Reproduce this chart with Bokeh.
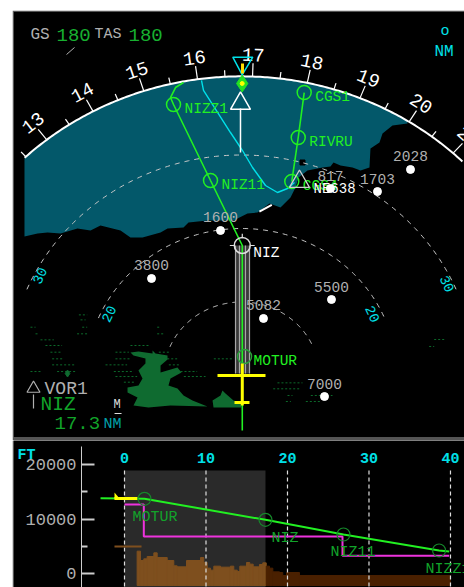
import numpy as np
from bokeh.embed import file_html
from bokeh.layouts import column
from bokeh.models import ColumnDataSource, FixedTicker, LinearAxis, Range1d
from bokeh.plotting import figure
from bokeh.core.properties import value
from bokeh.resources import INLINE

FONT = "Liberation Mono"
# ---------------- navigation display data (NM right of / ahead of the aircraft)
heading_top = 168
compass_radius = 40.7
compass_major = [130, 140, 150, 160, 170, 180, 190, 200, 210]
compass_labels = ["13", "14", "15", "16", "17", "18", "19", "20", "21"]
compass_minor = [125, 135, 145, 155, 165, 175, 185, 195, 205, 215]
ring_ranges = [10, 20, 30]
ring_label_text = ["30", "20", "20", "30"]
ring_label_x = [-26.0, -17.1, 16.9, 26.5]
ring_label_y = [13.6, 8.4, 8.4, 12.5]
ring_label_deg = [65, 65, -65, -65]

terrain_edge_x = [21.36, 19.43, 18.15, 17.76, 16.60, 16.47, 15.32, 14.29, 12.74, 11.84, 11.45, 10.42, 8.49, 7.34,
                  6.95, 6.31, 5.02, 3.60, 2.06, 0.77, -0.51, -1.03, -4.38, -6.82, -7.46, -9.52, -10.42, -12.74,
                  -14.29, -15.57, -18.15, -19.43, -21.11, -23.29, -24.97, -26.25, -27.93]
terrain_edge_y = [34.29, 34.01, 32.93, 31.70, 30.88, 28.30, 27.89, 28.30, 28.57, 28.98, 28.44, 28.30, 27.89, 26.94,
                  25.58, 24.22, 22.86, 23.40, 22.18, 22.04, 21.36, 21.09, 21.09, 20.82, 20.14, 20.00, 19.46, 18.78,
                  18.78, 19.73, 20.41, 19.73, 20.00, 19.32, 19.46, 19.32, 18.91]

high_ground_x = [-14.29, -13.26, -11.45, -11.45, -11.07, -9.52, -9.52, -10.42, -10.42, -8.24, -7.72, -9.14, -9.40,
                 -8.24, -7.46, -6.31, -4.38, -9.14, -11.97, -13.90, -13.38, -14.67, -14.67, -13.26, -12.74, -13.26,
                 -12.36, -12.36, -13.90]
high_ground_y = [3.13, 3.27, 2.99, 3.40, 2.99, 2.72, 2.18, 1.36, 0.41, 1.09, 0.41, -0.41, -1.36, -1.77, -2.72, -3.40,
                 -4.22, -4.08, -4.35, -4.08, -2.99, -2.31, -1.63, -1.36, -0.41, 0.68, 1.63, 2.31, 2.72]
high_ground2_x = [-3.73, -2.70, -2.45, -2.06, -1.03, -0.13, 0.0, -3.60]
high_ground2_y = [-3.40, -2.72, -2.04, -2.45, -3.40, -3.67, -4.35, -4.35]

clutter_y = [8.25, 7.57, 6.57, 6.57, 6.57, 5.67, 5.67, 5.67, 4.85, 4.08, 4.08, 3.17, 3.17, 3.17, 2.27, 2.27, 2.27, 2.27,
             1.45, 1.45, 1.45, 0.54, 0.54, 0.54, 0.54, -0.14, -0.14, -0.91, -1.0, -1.81, -2.72, -2.72, -3.54, -3.54,
             4.90, 3.95]
clutter_x0 = [-20.93, -20.72, -27.16, -20.50, -10.85, -26.51, -21.16, -10.85, -25.87, -25.23, -14.29, -24.59, -16.22,
              -10.64, -24.37, -16.22, -9.56, -3.56, -24.37, -17.5, -9.35, -27.16, -23.73, -16.43, -7.85, -16.22, -7.42,
              -15.14, 4.63, 4.08, 5.92, 8.92, 5.71, 8.28, 24.8, 24.15]
clutter_x1 = [-19.86, -20.07, -26.51, -19.86, -10.42, -26.08, -19.86, -10.0, -24.16, -23.09, -11.71, -23.30, -14.50,
              -9.35, -22.87, -14.29, -8.28, -1.21, -21.37, -14.72, -7.85, -25.87, -21.16, -13.85, -5.71, -13.43, -4.63,
              -13.64, 7.85, 7.64, 6.56, 11.71, 6.35, 10.21, 26.3, 24.8]

route_x = [-7.46, -8.49, -9.14, -8.75, -3.99, 0.1, 0.1]
route_y = [39.86, 39.18, 37.82, 36.87, 26.53, 17.69, -7.48]
route2_x = [8.07, 7.30, 6.47]
route2_y = [38.50, 32.38, 26.39]
waypoint_names = ["NIZZ1", "NIZ11", "CGS1", "RIVRU", "CGS4"]
waypoint_x = [-8.75, -3.99, 8.07, 7.30, 6.47]
waypoint_y = [36.87, 26.53, 38.50, 32.38, 26.39]
intercept_x = [-5.15, -4.89, -1.42, 0.13, 1.42, 3.09, 4.63, 5.92, 6.82]
intercept_y = [40.14, 38.78, 33.06, 30.61, 28.30, 25.85, 24.90, 25.44, 26.26]

spot_labels = ["1600", "3800", "5082", "5500", "7000", "817", "1703", "2028"]
spot_x = [-2.70, -11.58, 2.83, 11.58, 10.68, 11.45, 17.50, 21.75]
spot_y = [19.73, 13.20, 7.76, 10.34, -2.86, 25.44, 25.03, 28.03]

vor_x, vor_y = 0.1, 17.69
motur_x, motur_y = 0.39, 2.58
corridor_offsets = [-0.77, -0.26, 0.51, 1.03]
corridor_end = 0.27
dme_nm = 17.3

# ---------------- vertical profile data
nm_ticks = [0, 10, 20, 30, 40]
alt_ticks = [0, 10000, 20000]
alt_minor = [5000, 15000]
floor_ft = -2202
ground_edges = [1.55, 1.96, 2.37, 2.78, 3.60, 4.01, 5.24, 6.05, 6.46, 7.61, 9.33, 9.73, 10.15, 10.55, 10.96, 11.78,
                13.0, 13.41, 13.83, 14.15, 14.97, 15.37, 15.79, 16.56, 16.97, 17.39, 17.79, 18.2, 19.02, 19.42, 19.88,
                21.47, 40.0]
ground_top = [4097, 2385, 2691, 3119, 3792, 2936, 2385, 1407, 1223, 2385, 2936, 2018, 979, 612, 1346, 1162, 1346, 612,
              367, 1346, 2018, 1713, 1223, 1651, 1957, 1346, 979, 306, 183, -367, 183, -367]
path_nm = [-2.94, 2.45, 17.3, 26.87, 38.6, 39.84]
path_ft = [13817, 13706, 9853, 7156, 4220, 4037]
constraint_nm = [0, 2.37, 2.37, 26.75, 26.75, 39.84]
constraint_ft = [12661, 12661, 6789, 6789, 3248, 3248]
fix_nm = [2.45, 17.3, 26.87, 38.6]
fix_ft = [13706, 9853, 7156, 4220]
fix_names = ["MOTUR", "NIZ", "NIZ11", "NIZZ1"]
fix_label_nm = [0.98, 18.04, 25.28, 36.93]
fix_label_ft = [10275, 6422, 3853, 734]
alt_axis_nm = -5.276
nm_axis_ft = 19266

TEAL, CYAN, GREEN, DIM = "#03586a", "#00e0e8", "#22f022", "#12a32a"
GRAY = "#b0b0b0"


def txt(p, x, y, labels, color, size, align="left", **kw):
    return p.text(x=x, y=y, text=labels, text_color=color, text_font=value(FONT),
                  text_font_size=f"{size}px", text_align=align, text_baseline="middle", **kw)


# ================ map
m = figure(width=452, height=430, output_backend="svg", toolbar_location=None, x_axis_type=None, y_axis_type=None,
           x_range=Range1d(-29.344, 28.700), y_range=Range1d(-8.435, 49.524), background_fill_color="black",
           border_fill_color="#555555", min_border_left=1, min_border_top=1, min_border_bottom=3, min_border_right=0,
           outline_line_color=None)
m.margin = (10, 0, 0, 12)
m.grid.visible = False

th0 = np.degrees(np.arcsin(terrain_edge_x[-1] / compass_radius))
th1 = np.degrees(np.arcsin(terrain_edge_x[0] / compass_radius))
arc_th = np.radians(np.linspace(th0, th1, 120))
m.patch(list(compass_radius * np.sin(arc_th)) + terrain_edge_x, list(compass_radius * np.cos(arc_th)) + terrain_edge_y,
        fill_color=TEAL, line_color=None)
m.scatter([7.85], [28.98], marker="square", size=5, color="black")

m.segment(x0=clutter_x0, y0=clutter_y, x1=clutter_x1, y1=clutter_y, line_color="#0c6a2a", line_width=1, line_dash="2 2")
m.patch(high_ground_x, high_ground_y, fill_color="#0f6b30", line_color=None)
m.patch(high_ground2_x, high_ground2_y, fill_color="#0f6b30", line_color=None)
m.scatter([-22.39], [0.27], marker="diamond", size=7, color="#0f6b30")

ring_th = np.radians(np.linspace(-67, 67, 200))
for r in ring_ranges:
    m.line(r * np.sin(ring_th), r * np.cos(ring_th), line_color="#c8c8c8", line_width=1, line_dash="5 5")
txt(m, ring_label_x, ring_label_y, ring_label_text, CYAN, 14, "center", angle=np.radians(ring_label_deg))
m.line([2.3, 3.9], [22.3, 23.2], line_color="white", line_width=2)

# compass rose
rose = np.radians(np.linspace(-43.3, 44.3, 200))
m.line(compass_radius * np.sin(rose), compass_radius * np.cos(rose), line_color="white", line_width=2)
for ticks, ln in ((compass_major, 1.8), (compass_minor, 0.9)):
    a = np.radians(np.array(ticks) - heading_top)
    m.segment(x0=compass_radius * np.sin(a), y0=compass_radius * np.cos(a),
              x1=(compass_radius + ln) * np.sin(a), y1=(compass_radius + ln) * np.cos(a),
              line_color="white", line_width=1.2)
a = np.radians(np.array(compass_major) - heading_top)
txt(m, 43.6 * np.sin(a), 43.6 * np.cos(a), compass_labels, "white", 19, "center", angle=-a)

# localiser corridor
m.quad(left=[corridor_offsets[0]], right=[corridor_offsets[-1]], bottom=[corridor_end], top=[vor_y], fill_color="#3a3a3a",
       line_color=None)
m.segment(x0=corridor_offsets, y0=[corridor_end] * 4, x1=corridor_offsets, y1=[vor_y] * 4, line_color="#a8a8a8", line_width=1.2)

# routes
m.line(intercept_x, intercept_y, line_color=CYAN, line_width=1.4)
m.line(route_x, route_y, line_color=GREEN, line_width=1.6)
m.line(route2_x, route2_y, line_color=GREEN, line_width=1.6)
m.scatter(waypoint_x, waypoint_y, marker="circle", size=14, fill_color=None, line_color=GREEN, line_width=1.5)
txt(m, waypoint_x, waypoint_y, waypoint_names, GREEN, 14.5, x_offset=11, y_offset=4)

# VOR NIZ symbol
m.scatter([vor_x], [vor_y], marker="circle", size=16, fill_color=None, line_color="#dddddd", line_width=1.5)
m.segment(x0=[vor_x - 1.6, vor_x + 1.0, vor_x], y0=[vor_y, vor_y, vor_y + 1.0], x1=[vor_x - 1.0, vor_x + 1.6, vor_x],
          y1=[vor_y, vor_y, vor_y + 1.6], line_color="#dddddd", line_width=1.2)
txt(m, [vor_x], [vor_y], ["NIZ"], "white", 14.5, x_offset=11, y_offset=8)
m.scatter([motur_x], [motur_y], marker="circle", size=14, fill_color=None, line_color="#2aa03a", line_width=1.5)
txt(m, [motur_x], [motur_y], ["MOTUR"], GREEN, 14.5, x_offset=9, y_offset=4)

# spot heights
m.scatter(spot_x, spot_y, marker="circle", size=8, color="white")
txt(m, spot_x, spot_y, spot_labels, GRAY, 14.5, "center", y_offset=-13)
m.scatter([7.46], [26.39], marker="triangle", size=20, fill_color=None, line_color="#cfcfcf", line_width=1.3)
txt(m, [9.27], [25.44], ["NE638"], "white", 14)

# VOR pointer and track
m.scatter([-0.13], [37.01], marker="triangle", size=20, fill_color=None, line_color="white", line_width=1.5)
m.line([-0.13, -0.13], [36.33, 30.34], line_color="white", line_width=1.5)
m.scatter([0.09], [39.73], marker="diamond", size=17, color="#22e022")
m.scatter([0.09], [39.73], marker="circle", size=4, color="#ffff00")
m.patch([-1.12, 1.45, 0.09], [43.31, 43.31, 40.91], fill_color=None, line_color=CYAN, line_width=1.5)
m.line([0.13, 0.13], [42.45, 41.09], line_color="#ffdd00", line_width=3)

# aircraft
m.segment(x0=[0.1, -3.09, -0.90], y0=[1.63, 0, -3.67], x1=[0.1, 3.09, 1.03], y1=[-4.08, 0, -3.67],
          line_color="#ffff00", line_width=3)

# HUD texts
txt(m, [-27.16], [46.39], ["GS"], GRAY, 16)
txt(m, [-23.81], [46.39], ["180"], "#18b030", 19)
txt(m, [-18.92], [46.39], ["TAS"], GRAY, 15)
txt(m, [-14.54], [46.39], ["180"], "#18b030", 19)
m.line([-22.52, -21.49], [43.67, 44.63], line_color=GRAY, line_width=1)
txt(m, [25.61], [46.80], ["o"], CYAN, 15)
txt(m, [24.84], [44.08], ["NM"], CYAN, 16)
m.scatter([-26.77], [-1.77], marker="triangle", size=13, fill_color=None, line_color=GRAY, line_width=1.2)
m.line([-26.77, -26.77], [-2.59, -4.49], line_color=GRAY, line_width=1.2)
txt(m, [-25.35], [-1.77], ["VOR1"], GRAY, 18)
txt(m, [-25.87], [-3.95], ["NIZ"], "#12a32a", 19.5)
txt(m, [-24.07], [-6.53], ["17.3"], "#12a32a", 19)
txt(m, [-17.76], [-6.67], ["NM"], "#00a0a8", 15)
txt(m, [-16.47], [-4.08], ["M"], "#dddddd", 12)
m.line([-16.34, -15.44], [-5.17, -5.17], line_color="#dddddd", line_width=1.2)

# ================ vertical profile
v = figure(width=452, height=147, output_backend="svg", toolbar_location=None, x_axis_location=None,
           y_axis_location="left", x_range=Range1d(-13.62, 41.72), y_range=Range1d(-2569, 24404),
           background_fill_color="black", border_fill_color="#555555", min_border_left=1, min_border_top=0,
           min_border_bottom=0, min_border_right=0, outline_line_color=None)
v.margin = (0, 0, 0, 12)
v.grid.visible = False
ya = v.yaxis[0]
ya.fixed_location = alt_axis_nm
ya.bounds = (-2569, 23303)
ya.ticker = FixedTicker(ticks=alt_ticks, minor_ticks=alt_minor)
ya.axis_line_color = "#cccccc"
ya.major_tick_line_color = "#cccccc"
ya.minor_tick_line_color = "#cccccc"
ya.major_tick_line_width = 2
ya.minor_tick_line_width = 2
ya.major_tick_in, ya.major_tick_out = 13, 0
ya.minor_tick_in, ya.minor_tick_out = 6, 0
ya.major_label_text_color = GRAY
ya.major_label_text_font = FONT
ya.major_label_text_font_size = "17px"
ya.major_label_standoff = 5
ya.major_label_orientation = "horizontal"

xa = LinearAxis(ticker=FixedTicker(ticks=nm_ticks), axis_line_color=None, major_tick_line_color=None,
                minor_tick_line_color=None, major_label_text_color=CYAN, major_label_text_font=FONT,
                major_label_text_font_size="15px", major_label_text_font_style="bold", major_label_standoff=0,
                fixed_location=nm_axis_ft)
v.add_layout(xa, "above")

v.quad(left=[0], right=[dme_nm], bottom=[-2569], top=[18900], fill_color="#2a2a2a", line_color=None)
ground_colors = ["#7e4f1e" if e < dme_nm else "#4a2000" for e in ground_edges[:-1]]
gsrc = ColumnDataSource(dict(left=ground_edges[:-1], right=ground_edges[1:], top=ground_top,
                             bottom=[floor_ft] * len(ground_top), color=ground_colors))
v.quad(left="left", right="right", top="top", bottom="bottom", fill_color="color", line_color="color", source=gsrc)
v.segment(x0=nm_ticks, y0=[18900] * 5, x1=nm_ticks, y1=[-2569] * 5, line_color="#dddddd", line_width=1.2, line_dash="4 3")
v.line([-1.23, 2.09], [4954, 4954], line_color="#7e4f1e", line_width=2)
v.line(constraint_nm, constraint_ft, line_color="#ee33dd", line_width=2)
v.line(path_nm, path_ft, line_color=GREEN, line_width=2)
v.line([-1.23, 1.6], [13761, 13761], line_color="#ffff00", line_width=3)
v.patch([-1.23, -0.61, -1.23], [13761, 13761, 14862], fill_color="#ffff00", line_color=None)
v.scatter(fix_nm, fix_ft, marker="circle", size=13, fill_color=None, line_color="#15882a", line_width=1.2)
txt(v, fix_label_nm, fix_label_ft, fix_names, DIM, 15)
txt(v, [-13.13], [21600], ["FT"], CYAN, 15, text_font_style="bold")

open("out.html", "w").write(file_html(column(m, v, spacing=0), INLINE))
